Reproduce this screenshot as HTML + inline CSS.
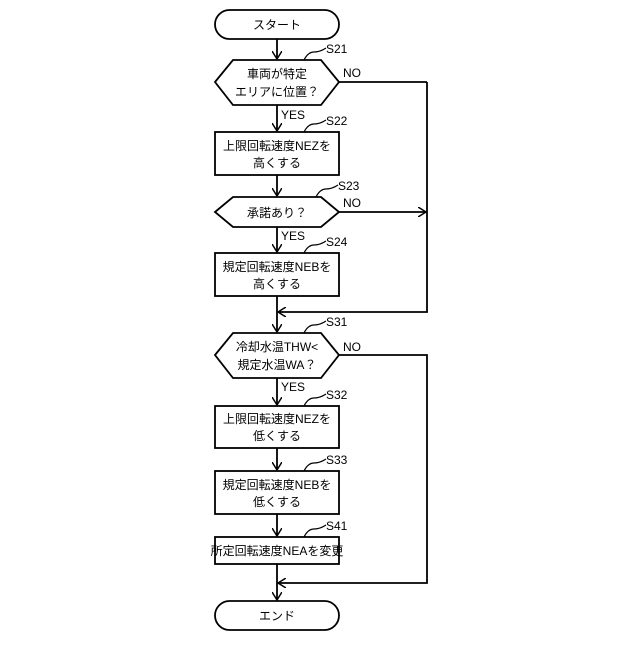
<!DOCTYPE html>
<html><head><meta charset="utf-8"><style>body{margin:0;background:#fff}</style></head><body>
<svg width="640" height="640" xmlns="http://www.w3.org/2000/svg" font-family="Liberation Sans, Noto Sans CJK JP, sans-serif" font-size="12" fill="#000">
<defs><marker id="a" markerWidth="10" markerHeight="10" refX="8" refY="5" orient="auto" markerUnits="userSpaceOnUse"><path d="M0,0 L8,5 L0,10" fill="none" stroke="#000" stroke-width="1.5"/></marker></defs>
<g stroke="#000" stroke-width="1.8" fill="none">
<rect x="215" y="10" width="124" height="29" rx="14.5"/>
<polygon points="215,82 233,60 321,60 339,82 321,105 233,105"/>
<rect x="215" y="132" width="124" height="43"/>
<polygon points="215,212 233,197 321,197 339,212 321,227 233,227"/>
<rect x="215" y="253" width="124" height="43"/>
<polygon points="215,355 233,333 321,333 339,355 321,378 233,378"/>
<rect x="215" y="406" width="124" height="42"/>
<rect x="215" y="471" width="124" height="43"/>
<rect x="215" y="537" width="124" height="27"/>
<rect x="215" y="601" width="124" height="29" rx="14.5"/>
<g marker-end="url(#a)">
<line x1="277" y1="39" x2="277" y2="59"/>
<line x1="277" y1="105" x2="277" y2="131"/>
<line x1="277" y1="175" x2="277" y2="196"/>
<line x1="277" y1="227" x2="277" y2="252"/>
<line x1="277" y1="296" x2="277" y2="332"/>
<line x1="277" y1="378" x2="277" y2="405"/>
<line x1="277" y1="448" x2="277" y2="470"/>
<line x1="277" y1="514" x2="277" y2="536"/>
<line x1="277" y1="564" x2="277" y2="600"/>
<line x1="339" y1="212" x2="426" y2="212"/>
<polyline points="427,212 427,312 278,312"/>
<polyline points="339,355 427,355 427,583 278,583"/>
</g>
<line x1="339" y1="82" x2="427" y2="82"/><line x1="427" y1="82" x2="427" y2="212"/>
<path d="M304,60 q4,-8 10,-8 t12,-4" stroke-width="1.2"/>
<path d="M304,132 q4,-8 10,-8 t12,-4" stroke-width="1.2"/>
<path d="M316,197 q4,-8 10,-8 t12,-4" stroke-width="1.2"/>
<path d="M304,253 q4,-8 10,-8 t12,-4" stroke-width="1.2"/>
<path d="M304,333 q4,-8 10,-8 t12,-4" stroke-width="1.2"/>
<path d="M304,406 q4,-8 10,-8 t12,-4" stroke-width="1.2"/>
<path d="M304,471 q4,-8 10,-8 t12,-4" stroke-width="1.2"/>
<path d="M304,537 q4,-8 10,-8 t12,-4" stroke-width="1.2"/>
</g>
<g text-anchor="middle">
<text x="277" y="29">スタート</text>
<text x="277" y="78">車両が特定</text><text x="277" y="96">エリアに位置？</text>
<text x="277" y="150">上限回転速度NEZを</text><text x="277" y="167">高くする</text>
<text x="277" y="217">承諾あり？</text>
<text x="277" y="271">規定回転速度NEBを</text><text x="277" y="288">高くする</text>
<text x="277" y="351">冷却水温THW&lt;</text><text x="277" y="369">規定水温WA？</text>
<text x="277" y="423">上限回転速度NEZを</text><text x="277" y="440">低くする</text>
<text x="277" y="489">規定回転速度NEBを</text><text x="277" y="506">低くする</text>
<text x="277" y="555">所定回転速度NEAを変更</text>
<text x="277" y="620">エンド</text>
</g>
<g>
<text x="326" y="53">S21</text><text x="326" y="125">S22</text><text x="338" y="190">S23</text><text x="326" y="246">S24</text>
<text x="326" y="326">S31</text><text x="326" y="399">S32</text><text x="326" y="464">S33</text><text x="326" y="530">S41</text>
<text x="343" y="77">NO</text><text x="343" y="207">NO</text><text x="343" y="351">NO</text>
<text x="281" y="119">YES</text><text x="281" y="240">YES</text><text x="281" y="391">YES</text>
</g>
</svg>
</body></html>
